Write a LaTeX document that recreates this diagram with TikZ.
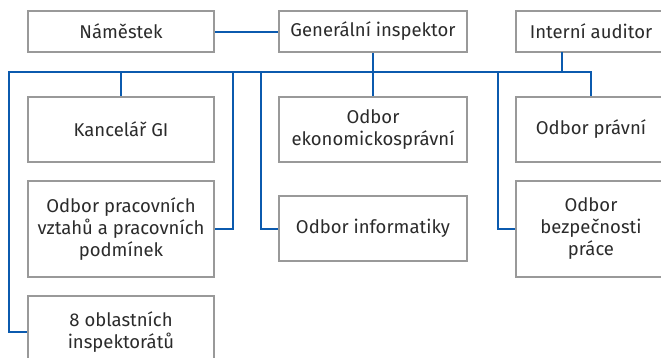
\documentclass[tikz,border=0pt]{standalone}
\usepackage{fontspec}
\setmainfont{Fira Sans}
\definecolor{boxgray}{HTML}{999999}
\definecolor{lineblue}{HTML}{0B5AAE}
\definecolor{txt}{HTML}{2B2B2B}
\begin{document}
\begin{tikzpicture}[x=1pt,y=-1pt,
  orgbox/.style={draw=boxgray,line width=2.2pt,fill=white,rectangle,inner sep=0pt,
    text=txt,align=center,font=\fontsize{18.5}{22}\selectfont},
  link/.style={draw=lineblue,line width=2pt}]
\useasboundingbox (0,0) rectangle (661,357);
\clip (0,0) rectangle (661,357);
% top row
\node[orgbox,minimum width=186pt,minimum height=41pt] (nam) at (121,31.5) {Náměstek};
\node[orgbox,minimum width=188pt,minimum height=41pt] (gi) at (373,31.5) {Generální inspektor};
\node[orgbox,minimum width=150pt,minimum height=41pt] (ia) at (591,31.5) {Interní auditor};
% second row
\node[orgbox,minimum width=186pt,minimum height=65pt] (kan) at (121,129.5) {Kancelář GI};
\node[orgbox,minimum width=188pt,minimum height=65pt] (eko) at (373,129.5) {Odbor\\ekonomickosprávní};
\node[orgbox,minimum width=150pt,minimum height=65pt] (pra) at (591,129.5) {Odbor právní};
% third row
\node[orgbox,minimum width=186pt,minimum height=96pt] (prac) at (121,229) {Odbor pracovních\\vztahů a pracovních\\podmínek};
\node[orgbox,minimum width=188pt,minimum height=65pt] (inf) at (373,228.5) {Odbor informatiky};
\node[orgbox,minimum width=150pt,minimum height=96pt] (bez) at (591,229) {Odbor\\bezpečnosti\\práce};
% fourth row
\node[orgbox,minimum width=186pt,minimum height=72pt] (obl) at (121,332) {8 oblastních\\inspektorátů};
% bus coordinates
\coordinate (busL) at (9,72);
\coordinate (busP) at (233,72);
\coordinate (busI) at (261,72);
\coordinate (busB) at (498,72);
\coordinate (busA) at (562,72);
\coordinate (iaS) at (562,52);
% connectors
\draw[link] (nam.east) -- (gi.west);
\draw[link] (gi.south) -- (eko.north);
\draw[link] (obl.west) -| (busL) -| (pra.north);
\draw[link] (kan.north) -- (kan.north |- busL);
\draw[link] (prac.east) -| (busP);
\draw[link] (inf.west) -| (busI);
\draw[link] (bez.west) -| (busB);
\draw[link] (iaS) -- (busA);
\end{tikzpicture}
\end{document}
